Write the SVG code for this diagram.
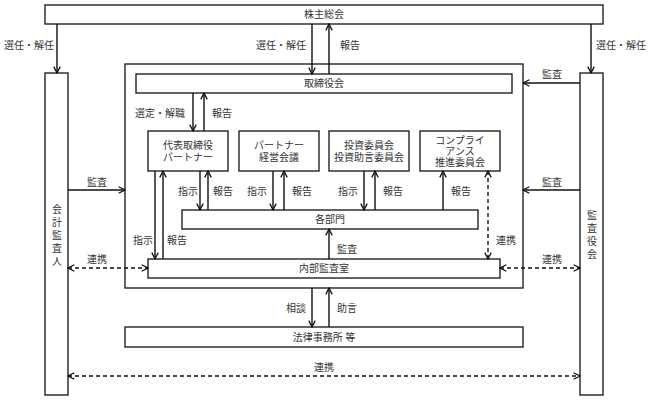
<svg xmlns="http://www.w3.org/2000/svg" width="648" height="400" viewBox="0 0 648 400">
<style>
.box{fill:#fff;stroke:#222;stroke-width:1.4}
.t{font-family:"Liberation Serif","Noto Sans CJK JP",serif;font-size:10px;fill:#333;text-anchor:middle;dominant-baseline:central}
.c{fill:none;stroke:#111;stroke-width:1.4}
.a{marker-end:url(#ah)}
.d{stroke-dasharray:4 3;marker-start:url(#ah);marker-end:url(#ah)}
</style>
<defs>
<marker id="ah" viewBox="0 0 10 10" refX="9" refY="5" markerWidth="8" markerHeight="8" markerUnits="userSpaceOnUse" orient="auto-start-reverse">
<path d="M1,1 L9,5 L1,9" fill="none" stroke="#111" stroke-width="1.6"/>
</marker>
</defs>
<rect x="0" y="0" width="648" height="400" fill="#fff"/>
<g id="outer"><rect class="box" x="125" y="64" width="398" height="224"/></g>
<g id="shareholders"><rect class="box" x="45" y="5" width="558" height="19"/><text class="t" x="324" y="14.5">株主総会</text></g>
<g id="auditor"><rect class="box" x="45" y="73" width="23" height="322"/>
<text class="t" x="57" y="209">会</text><text class="t" x="57" y="222">計</text><text class="t" x="57" y="235">監</text><text class="t" x="57" y="248">査</text><text class="t" x="57" y="261">人</text></g>
<g id="kansayaku"><rect class="box" x="580" y="73" width="23" height="322"/>
<text class="t" x="592" y="215">監</text><text class="t" x="592" y="228">査</text><text class="t" x="592" y="241">役</text><text class="t" x="592" y="254">会</text></g>
<g id="board"><rect class="box" x="136" y="74" width="376" height="19"/><text class="t" x="324" y="83.5">取締役会</text></g>
<g id="rep"><rect class="box" x="148" y="131" width="80" height="40"/><text class="t" x="188" y="145">代表取締役</text><text class="t" x="188" y="157">パートナー</text></g>
<g id="partner"><rect class="box" x="239" y="131" width="80" height="40"/><text class="t" x="279" y="145">パートナー</text><text class="t" x="279" y="157">経営会議</text></g>
<g id="invest"><rect class="box" x="329" y="131" width="80" height="40"/><text class="t" x="369" y="145">投資委員会</text><text class="t" x="369" y="157">投資助言委員会</text></g>
<g id="compliance"><rect class="box" x="420" y="131" width="80" height="40"/><text class="t" x="460" y="140">コンプライ</text><text class="t" x="460" y="151">アンス</text><text class="t" x="460" y="162">推進委員会</text></g>
<g id="depts"><rect class="box" x="182" y="210" width="296" height="19"/><text class="t" x="330" y="219.5">各部門</text></g>
<g id="internal"><rect class="box" x="148" y="259" width="352" height="19"/><text class="t" x="324" y="268.5">内部監査室</text></g>
<g id="law"><rect class="box" x="125" y="327" width="398" height="20"/><text class="t" x="324" y="337">法律事務所 等</text></g>
<g id="connectors">
<line class="c a" x1="57" y1="24" x2="57" y2="73"/>
<line class="c a" x1="312" y1="24" x2="312" y2="74"/>
<line class="c a" x1="329" y1="74" x2="329" y2="24"/>
<line class="c a" x1="591" y1="24" x2="591" y2="73"/>
<line class="c a" x1="580" y1="83" x2="523" y2="83"/>
<line class="c a" x1="193" y1="93" x2="193" y2="131"/>
<line class="c a" x1="204" y1="131" x2="204" y2="93"/>
<line class="c a" x1="68" y1="190" x2="125" y2="190"/>
<line class="c a" x1="580" y1="190" x2="523" y2="190"/>
<line class="c a" x1="155" y1="171" x2="155" y2="259"/>
<line class="c a" x1="163" y1="259" x2="163" y2="171"/>
<line class="c a" x1="200" y1="171" x2="200" y2="210"/>
<line class="c a" x1="208" y1="210" x2="208" y2="171"/>
<line class="c a" x1="273" y1="171" x2="273" y2="210"/>
<line class="c a" x1="284" y1="210" x2="284" y2="171"/>
<line class="c a" x1="364" y1="171" x2="364" y2="210"/>
<line class="c a" x1="375" y1="210" x2="375" y2="171"/>
<line class="c a" x1="443" y1="210" x2="443" y2="171"/>
<line class="c d" x1="488" y1="171" x2="488" y2="259"/>
<line class="c a" x1="329" y1="259" x2="329" y2="229"/>
<line class="c d" x1="68" y1="268" x2="148" y2="268"/>
<line class="c d" x1="500" y1="268" x2="580" y2="268"/>
<line class="c a" x1="312" y1="288" x2="312" y2="327"/>
<line class="c a" x1="329" y1="327" x2="329" y2="288"/>
<line class="c d" x1="68" y1="376" x2="580" y2="376"/>
</g>
<g id="labels">
<text class="t" x="29" y="45">選任・解任</text>
<text class="t" x="281" y="45">選任・解任</text>
<text class="t" x="350" y="45">報告</text>
<text class="t" x="621" y="45">選任・解任</text>
<text class="t" x="552" y="74">監査</text>
<text class="t" x="160" y="113">選定・解職</text>
<text class="t" x="222" y="113">報告</text>
<text class="t" x="97" y="182">監査</text>
<text class="t" x="552" y="182">監査</text>
<text class="t" x="188" y="191">指示</text>
<text class="t" x="223" y="191">報告</text>
<text class="t" x="257" y="191">指示</text>
<text class="t" x="302" y="191">報告</text>
<text class="t" x="348" y="191">指示</text>
<text class="t" x="393" y="191">報告</text>
<text class="t" x="461" y="191">報告</text>
<text class="t" x="143" y="240">指示</text>
<text class="t" x="177" y="240">報告</text>
<text class="t" x="506" y="240">連携</text>
<text class="t" x="347" y="249">監査</text>
<text class="t" x="97" y="259">連携</text>
<text class="t" x="552" y="259">連携</text>
<text class="t" x="296" y="308">相談</text>
<text class="t" x="347" y="308">助言</text>
<text class="t" x="324" y="367">連携</text>
</g>
</svg>
